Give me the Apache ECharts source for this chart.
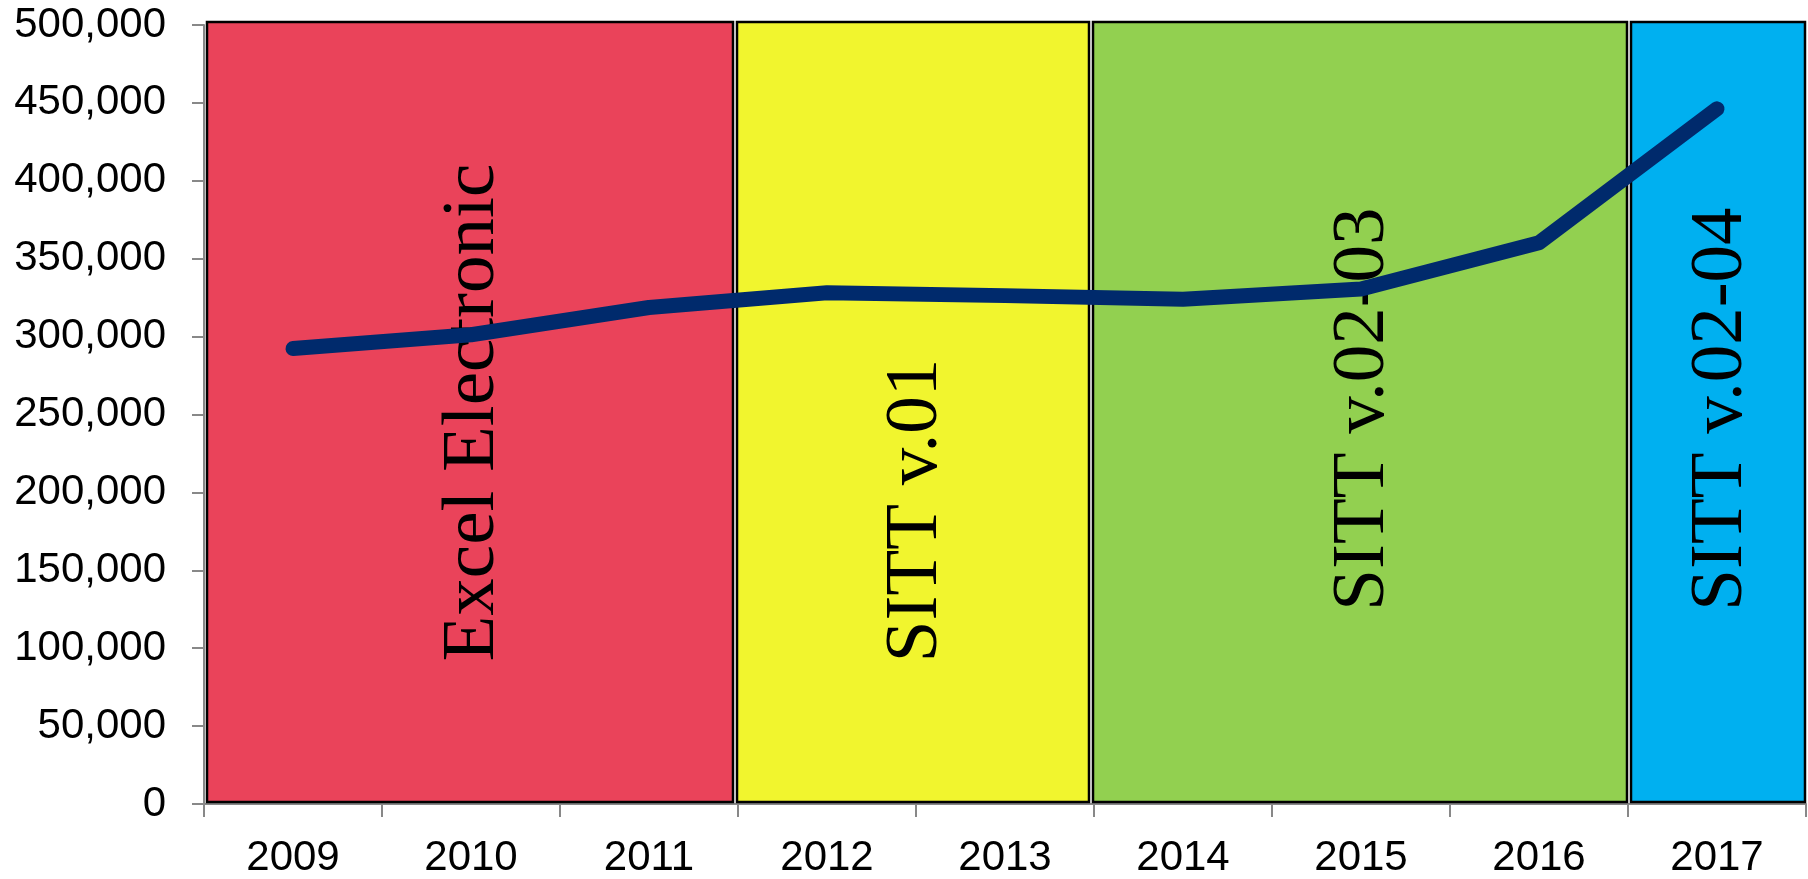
<!DOCTYPE html>
<html>
<head>
<meta charset="utf-8">
<title>Registros por año</title>
<script src="https://cdn.jsdelivr.net/npm/echarts@6/dist/echarts.min.js"></script>
<style>
html,body{margin:0;padding:0;background:#fff;}
#chart{width:1808px;height:879px;}
</style>
</head>
<body>
<div id="chart"></div>
<script>
// data
var years = ['2009','2010','2011','2012','2013','2014','2015','2016','2017'];
var totals = [292300, 301200, 318700, 328200, 326300, 324000, 330500, 360300, 446200];
var yTicks = [0, 50000, 100000, 150000, 200000, 250000, 300000, 350000, 400000, 450000, 500000];

// system periods: first / last year index covered (end exclusive)
var zoneNames = ['Excel Electronic', 'SITT v.01', 'SITT v.02-03', 'SITT v.02-04'];
var zoneStart = [0, 3, 5, 8];
var zoneEnd = [3, 5, 8, 9];

// look
var zoneColors = ['#EA435A', '#F1F52E', '#92D050', '#00B0F0'];
var labelFrom = [91500, 91000, 124000, 124000];   // where the rotated text starts (y units)
var edgeShift = [0, -4, -4, 0];                   // small nudge of each left edge, px

var zoneData = zoneNames.map(function(n, i){
    return [zoneStart[i], zoneEnd[i], n];
});

var myChart = echarts.init(document.getElementById('chart'));

function renderZone(params, api)
{
    var i = params.dataIndex;
    var p0 = api.coord([api.value(0), 0]);
    var p1 = api.coord([api.value(1), yTicks[yTicks.length - 1]]);
    var lp = api.coord([(api.value(0) + api.value(1)) / 2, labelFrom[i]]);
    var x0 = p0[0] + 3 + edgeShift[i];
    var x1 = p1[0] - 1 + (i + 1 < edgeShift.length ? edgeShift[i + 1] : 0);
    return {
        type: 'group',
        children: [
            {
                type: 'rect',
                shape: {x: x0, y: p1[1] - 3, width: x1 - x0, height: p0[1] - p1[1] + 1},
                style: {fill: zoneColors[i], stroke: '#000', lineWidth: 2.5}
            },
            {
                type: 'text',
                x: (x0 + x1) / 2 + 3,
                y: lp[1],
                rotation: Math.PI / 2,
                style: {
                    text: zoneNames[i],
                    fill: '#000',
                    font: '75px "Liberation Serif", "Times New Roman", serif',
                    align: 'left',
                    verticalAlign: 'middle'
                }
            }
        ]
    };
}

var option = {
    animation: false,
    grid: {left: 204, right: 2, top: 25, bottom: 70},
    xAxis: [
        {
            type: 'category',
            data: years,
            boundaryGap: true,
            axisLine: {lineStyle: {color: '#888', width: 2}},
            axisTick: {show: true, interval: 0, length: 13, lineStyle: {color: '#888', width: 2}},
            axisLabel: {color: '#000', fontSize: 42, fontFamily: '"Liberation Sans", Arial, sans-serif', margin: 33, interval: 0},
            splitLine: {show: false}
        },
        {
            type: 'value',
            min: 0,
            max: years.length,
            show: false
        }
    ],
    yAxis: {
        type: 'value',
        min: yTicks[0],
        max: yTicks[yTicks.length - 1],
        interval: yTicks[1] - yTicks[0],
        axisLine: {show: true, lineStyle: {color: '#888', width: 2}},
        axisTick: {show: true, length: 12, lineStyle: {color: '#888', width: 2}},
        axisLabel: {
            color: '#000', fontSize: 42, fontFamily: '"Liberation Sans", Arial, sans-serif', margin: 38,
            formatter: function(v){ return v.toLocaleString('en-US'); }
        },
        splitLine: {show: false}
    },
    series: [
        {
            type: 'custom',
            xAxisIndex: 1,
            yAxisIndex: 0,
            data: zoneData,
            renderItem: renderZone,
            z: 1
        },
        {
            name: 'Total',
            type: 'line',
            xAxisIndex: 0,
            data: totals,
            symbol: 'none',
            lineStyle: {color: '#002A6C', width: 15, cap: 'round', join: 'round'},
            z: 5
        }
    ]
};
myChart.setOption(option);
</script>
</body>
</html>
